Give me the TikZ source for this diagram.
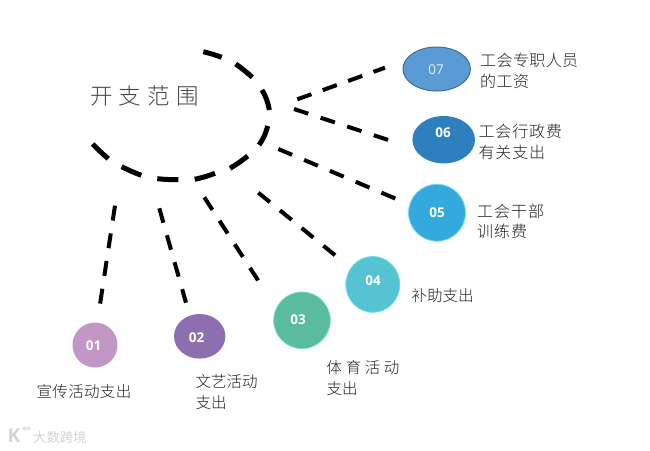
\documentclass[tikz,border=0pt]{standalone}
\usepackage{fontspec}
\setmainfont{Open Sans}
\newfontfamily\cjk{Noto Sans CJK SC}[UprightFont=* Light,BoldFont=*]
\newfontfamily\numfont{Open Sans}
\newcommand{\lsp}[1]{\addfontfeature{LetterSpace=#1}}
\definecolor{cOne}{HTML}{C297C5}
\definecolor{cTwo}{HTML}{8C6FAE}
\definecolor{cThree}{HTML}{5BBB9F}
\definecolor{cFour}{HTML}{55C3D2}
\definecolor{cFive}{HTML}{34A9DD}
\definecolor{cSix}{HTML}{2E7FBD}
\definecolor{cSeven}{HTML}{5B9BD5}
\definecolor{txt}{HTML}{222222}
\definecolor{wm}{HTML}{D4D4D4}
\tikzset{
  x=1pt,y=-1pt,
  arcdash/.style={line width=5pt,black},
  raydash/.style={line width=4pt,black,dash pattern=on 15pt off 13pt},
  rayshort/.style={line width=4pt,black,dash pattern=on 15pt off 12pt},
  numtxt/.style={text=white,font=\numfont\bfseries\fontsize{13.5}{15}\selectfont},
  lbl/.style={anchor=west,align=left,inner sep=0pt,text=txt},
}
\begin{document}
\begin{tikzpicture}
\useasboundingbox (0,0) rectangle (650,450);
\fill[white] (0,0) rectangle (650,450);
% big dashed arc
\coordinate (a1s) at (203.3,51.7);  \coordinate (a1e) at (221.7,57.3);
\coordinate (a2s) at (235.7,64);    \coordinate (a2e) at (252.3,77.3);
\coordinate (a3s) at (262,90);      \coordinate (a3e) at (269.3,110);
\coordinate (a4s) at (267.7,126);   \coordinate (a4e) at (259,145);
\coordinate (a5s) at (247.7,156);   \coordinate (a5e) at (230,168.3);
\coordinate (a6s) at (215,173.3);   \coordinate (a6e) at (194.7,179.3);
\coordinate (a7s) at (178.3,179.7); \coordinate (a7e) at (157.3,178.7);
\coordinate (a8s) at (141.3,175.3); \coordinate (a8e) at (121.7,166.7);
\coordinate (a9s) at (108.3,158.7); \coordinate (a9e) at (92.7,144);
\draw[arcdash] (a1s) to[bend left=3] (a1e);
\draw[arcdash] (a2s) to[bend left=3] (a2e);
\draw[arcdash] (a3s) to[bend left=10] (a3e);
\draw[arcdash] (a4s) to[bend left=10] (a4e);
\draw[arcdash] (a5s) to[bend left=4] (a5e);
\draw[arcdash] (a6s) to[bend left=4] (a6e);
\draw[arcdash] (a7s) to[bend left=3] (a7e);
\draw[arcdash] (a8s) to[bend left=3] (a8e);
\draw[arcdash] (a9s) to[bend left=3] (a9e);
% title
\node[anchor=west,inner sep=0pt,text=black!72,font=\cjk\fontsize{22.5}{24}\selectfont\lsp{28}] (title) at (90,95.5) {开支范围};
% ray ends
\coordinate (r1s) at (115,205.7);   \coordinate (r1e) at (100,304.3);
\coordinate (r2s) at (159.3,208.3); \coordinate (r2e) at (186,302.7);
\coordinate (r3s) at (204.3,197.3); \coordinate (r3e) at (258.3,280.7);
\coordinate (r4s) at (258.3,192.7); \coordinate (r4e) at (336,256);
\coordinate (r5s) at (278.3,149);   \coordinate (r5e) at (395.7,198.7);
\coordinate (r6s) at (294,109);     \coordinate (r6e) at (388.3,140);
\coordinate (r7s) at (297.3,99.3);  \coordinate (r7e) at (385,67.7);
\draw[raydash] (r1s) -- (r1e);
\draw[raydash] (r2s) -- (r2e);
\draw[raydash] (r3s) -- (r3e);
\draw[raydash] (r4s) -- (r4e);
\draw[raydash] (r5s) -- (r5e);
\draw[raydash] (r6s) -- (r6e);
\draw[rayshort] (r7s) -- (r7e);
% badges
\fill[cOne] (95,345) ellipse [x radius=22.5,y radius=22.5];
\node[numtxt] (n1) at (93.5,345.5) {01};
\fill[cTwo] (199.7,336.3) ellipse [x radius=25.7,y radius=22.3];
\node[numtxt] (n2) at (196.5,338) {02};
\draw[cThree!70!cyan!70,line width=.8pt,fill=cThree] (302,320.3) circle [radius=28.3];
\node[numtxt] (n3) at (298,320) {03};
\draw[cFour!70!cyan!70,line width=.8pt,fill=cFour] (372.8,284.4) ellipse [x radius=27,y radius=28];
\node[numtxt] (n4) at (373,281) {04};
\draw[cFive!70!cyan!60,line width=.8pt,fill=cFive] (437,212.7) circle [radius=28.5];
\node[numtxt] (n5) at (437,213) {05};
\fill[cSix] (443.7,139.7) ellipse [x radius=31.3,y radius=23.7];
\node[numtxt] (n6) at (443,133) {06};
\draw[cSeven!70!black,line width=1pt,fill=cSeven] (436.7,69) ellipse [x radius=33.7,y radius=22];
\node[text=white!85!cSeven,font=\numfont\fontsize{13.5}{15}\selectfont] (n7) at (436,69.5) {07};
% labels
\node[lbl,font=\cjk\fontsize{16}{21}\selectfont\lsp{2.5}] (l7) at (480,71) {工会专职人员\\的工资};
\node[lbl,font=\cjk\fontsize{16}{21}\selectfont\lsp{5}] (l6) at (478.5,142) {工会行政费\\有关支出};
\node[lbl,font=\cjk\fontsize{16}{20}\selectfont\lsp{6}] (l5) at (477,221.5) {工会干部\\训练费};
\node[lbl,font=\cjk\fontsize{15.5}{20}\selectfont] (l4) at (411.5,296) {补助支出};
\node[lbl,font=\cjk\fontsize{15.5}{21}\selectfont] (l3) at (326.5,378) {{\lsp{23}体育活动}\\支出};
\node[lbl,font=\cjk\fontsize{15.5}{21}\selectfont] (l2) at (195.5,392) {文艺活动\\支出};
\node[lbl,font=\cjk\fontsize{15.5}{21}\selectfont\lsp{2}] (l1) at (36.5,391.7) {宣传活动支出};
% watermark
\node[anchor=west,inner sep=0pt,text=wm,font=\cjk\bfseries\fontsize{13.3}{15}\selectfont] (wmtext) at (33,437) {大数跨境};
\node[inner sep=0pt,text=wm,font=\numfont\bfseries\fontsize{19}{19}\selectfont] (wmk) at (14,436) {K};
\draw[wm,line width=.8pt] (24.5,428.5) circle [radius=1.6] (28.5,428.5) circle [radius=1.6];
\end{tikzpicture}
\end{document}
